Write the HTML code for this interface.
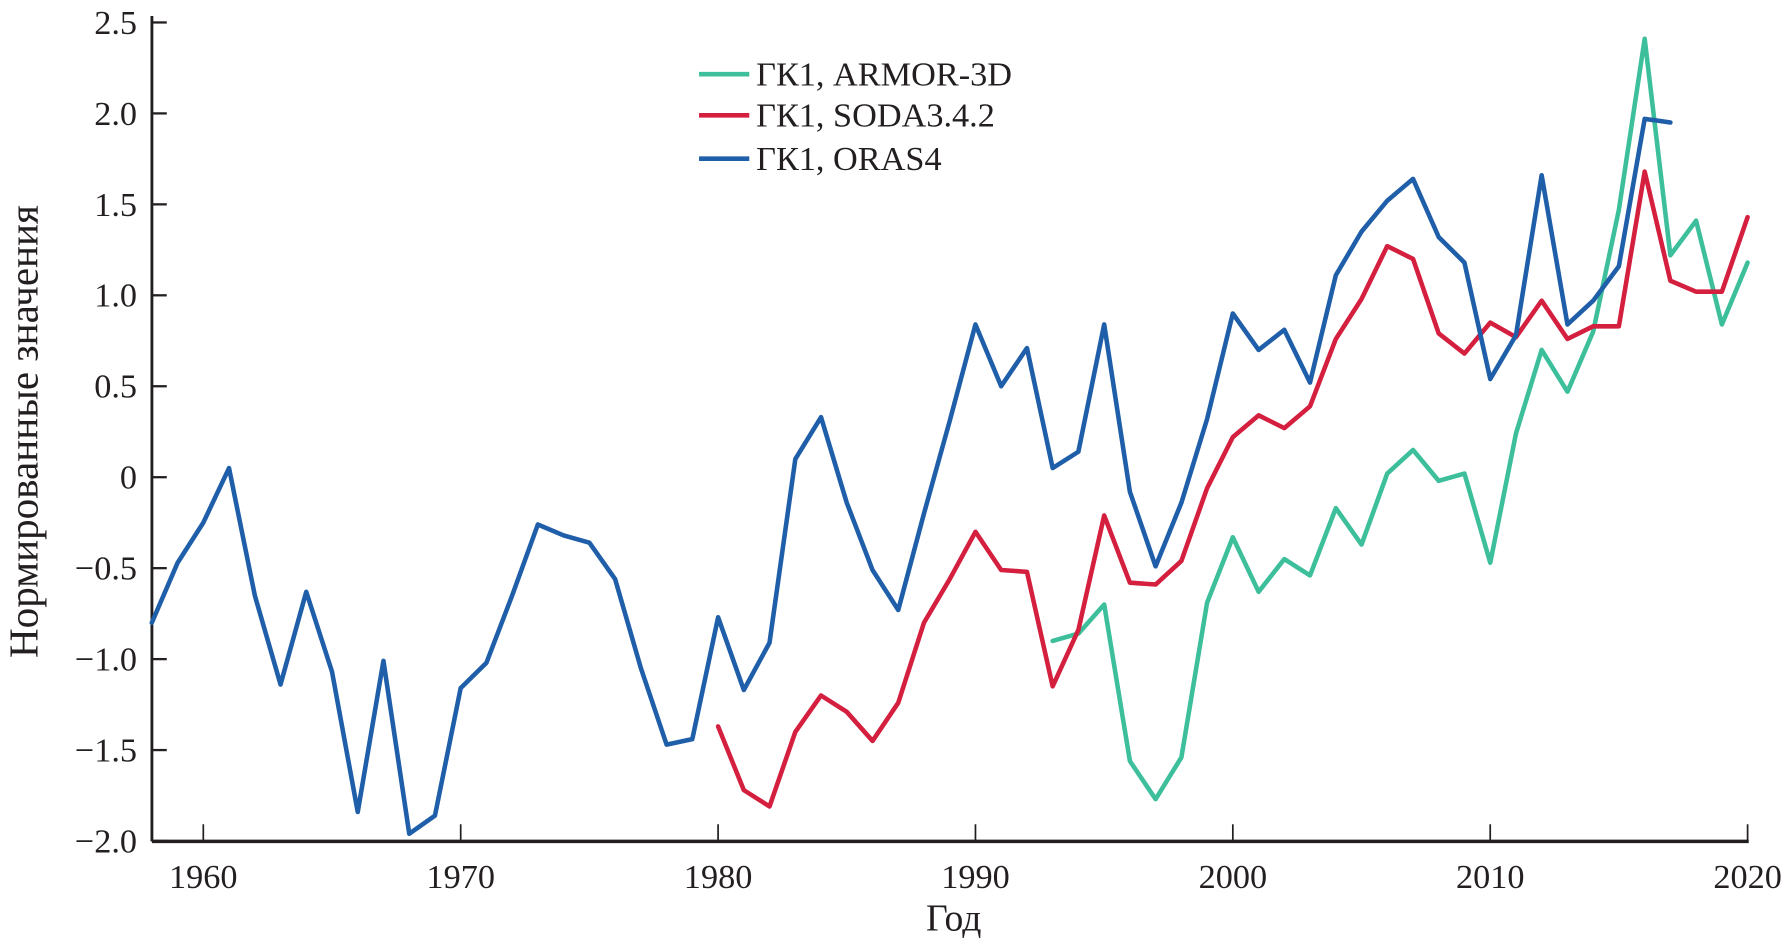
<!DOCTYPE html>
<html><head><meta charset="utf-8"><style>
html,body{margin:0;padding:0;background:#fff;}
svg{display:block;}
text{font-family:"Liberation Serif",serif;fill:#231f20;}
</style></head><body>
<svg id="chart" width="1791" height="943" viewBox="0 0 1568 826" preserveAspectRatio="none" xmlns="http://www.w3.org/2000/svg">
<g id="axes"></g>
<g id="series"></g>
<g id="legend"></g>
</svg>
<script>
const xTicks = [1960,1970,1980,1990,2000,2010,2020];
const yTicks = [-2.0,-1.5,-1.0,-0.5,0,0.5,1.0,1.5,2.0,2.5];
const yTickLabels = ["\u22122.0","\u22121.5","\u22121.0","\u22120.5","0","0.5","1.0","1.5","2.0","2.5"];
const orasStart = 1958;
const orasValues = [-0.8,-0.47,-0.25,0.05,-0.65,-1.14,-0.63,-1.07,-1.84,-1.01,-1.96,-1.86,-1.16,-1.02,-0.65,-0.26,-0.32,-0.36,-0.56,-1.05,-1.47,-1.44,-0.77,-1.17,-0.91,0.1,0.33,-0.14,-0.51,-0.73,-0.2,0.31,0.84,0.5,0.71,0.05,0.14,0.84,-0.08,-0.49,-0.14,0.32,0.9,0.7,0.81,0.52,1.11,1.35,1.52,1.64,1.32,1.18,0.54,0.78,1.66,0.84,0.97,1.16,1.97,1.95];
const sodaStart = 1980;
const sodaValues = [-1.37,-1.72,-1.81,-1.4,-1.2,-1.29,-1.45,-1.24,-0.8,-0.56,-0.3,-0.51,-0.52,-1.15,-0.84,-0.21,-0.58,-0.59,-0.46,-0.06,0.22,0.34,0.27,0.39,0.76,0.98,1.27,1.2,0.79,0.68,0.85,0.77,0.97,0.76,0.83,0.83,1.68,1.08,1.02,1.02,1.43];
const armorStart = 1993;
const armorValues = [-0.9,-0.86,-0.7,-1.56,-1.77,-1.54,-0.69,-0.33,-0.63,-0.45,-0.54,-0.17,-0.37,0.02,0.15,-0.02,0.02,-0.47,0.24,0.7,0.47,0.8,1.47,2.41,1.22,1.41,0.84,1.18];
const seriesNames = ["\u0413\u041a1, ARMOR-3D","\u0413\u041a1, SODA3.4.2","\u0413\u041a1, ORAS4"];

const NS="http://www.w3.org/2000/svg";
const X0=133, X1=1531, Y0=737, YT=20;
function xs(yr){return 178+(yr-1960)*(1530-178)/60;}
function ys(v){return 418-v*(737-20)/4.5;}
function mk(tag,attrs,parent){const e=document.createElementNS(NS,tag);for(const k in attrs)e.setAttribute(k,attrs[k]);parent.appendChild(e);return e;}
const axes=document.getElementById('axes');
const yl=mk('line',{x1:X0,y1:14,x2:X0,y2:Y0,stroke:'#231f20','stroke-width':2.5},axes);


const xl=mk('line',{x1:X0,y1:Y0,x2:X1,y2:Y0,stroke:'#231f20','stroke-width':3},axes);


yTicks.forEach((v,i)=>{
  const y=ys(v);
  mk('line',{x1:X0,y1:y,x2:X0+13,y2:y,stroke:'#231f20','stroke-width':2},axes);
  const t=mk('text',{x:120,y:y+10,'text-anchor':'end','font-size':30},axes);
  t.textContent=yTickLabels[i];
  
  
});
xTicks.forEach(yr=>{
  const x=xs(yr);
  mk('line',{x1:X0+0,y1:0,x2:0,y2:0,stroke:'none'},axes);
  mk('line',{x1:x,y1:Y0,x2:x,y2:Y0-15,stroke:'#231f20','stroke-width':1.5},axes);
  const t=mk('text',{x:x,y:778,'text-anchor':'middle','font-size':30},axes);
  t.textContent=String(yr);
  
  
});
const xt=mk('text',{x:835,y:815,'text-anchor':'middle','font-size':33},axes);
xt.textContent='\u0413\u043e\u0434';


const yt=mk('text',{x:0,y:0,'text-anchor':'middle','font-size':36,transform:'translate(33,378) rotate(-90)'},axes);
yt.textContent='\u041d\u043e\u0440\u043c\u0438\u0440\u043e\u0432\u0430\u043d\u043d\u044b\u0435 \u0437\u043d\u0430\u0447\u0435\u043d\u0438\u044f';



const ser=document.getElementById('series');
function drawLine(start,vals,color,name){
  const pts=vals.map((v,i)=>xs(start+i).toFixed(1)+','+ys(v).toFixed(1)).join(' ');
  const p=mk('polyline',{points:pts,fill:'none',stroke:color,'stroke-width':4,'stroke-linejoin':'round','stroke-linecap':'round'},ser);
  
  
}
drawLine(armorStart,armorValues,'#3dbf9b','armor-3d-line');
drawLine(sodaStart,sodaValues,'#d41f3f','soda-line');
drawLine(orasStart,orasValues,'#1f5ea8','oras4-line');

const leg=document.getElementById('legend');
const colors=['#3dbf9b','#d41f3f','#1f5ea8'];
[65,101,139].forEach((y,i)=>{
  const l=mk('line',{x1:612,y1:y,x2:656,y2:y,stroke:colors[i],'stroke-width':4},leg);
  
  
  const t=mk('text',{x:662,y:y+10,'font-size':30},leg);
  t.textContent=seriesNames[i];
  
  
});
</script>
</body></html>
